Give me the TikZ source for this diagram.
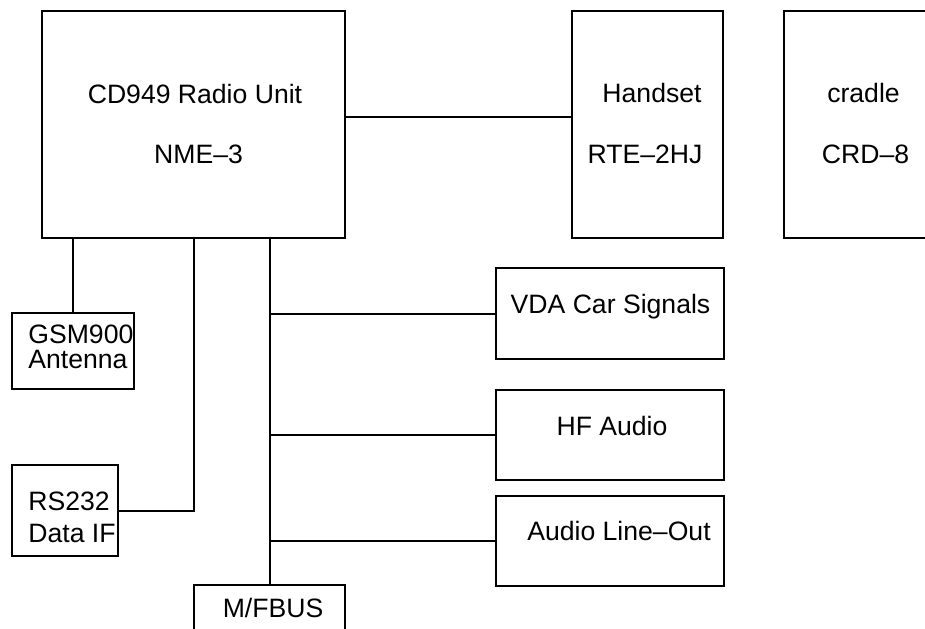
\documentclass[tikz,border=0pt]{standalone}
\usepackage{fontspec}
\setmainfont{Liberation Sans}
\begin{document}
\begin{tikzpicture}[x=0.5pt,y=-0.5pt,
  box/.style={draw,line width=1pt,rectangle,inner sep=0pt},
  lbl/.style={anchor=base,inner sep=0pt,font=\fontsize{13.3}{16}\selectfont},
  wire/.style={line width=1pt}]
\useasboundingbox (0,0) rectangle (925,628);
% boxes
\node[box,minimum width=151.5pt,minimum height=113.5pt] (main) at (193.5,124.5) {};
\node[box,minimum width=75.5pt,minimum height=113.5pt] (handset) at (647.5,124.5) {};
\node[box,minimum width=76pt,minimum height=113.5pt] (cradle) at (860,124.5) {};
\node[box,minimum width=61pt,minimum height=38pt] (gsm) at (73,351) {};
\node[box,minimum width=53pt,minimum height=45.5pt] (rs) at (65,510.5) {};
\node[box,minimum width=114pt,minimum height=45.5pt] (vda) at (610,313.5) {};
\node[box,minimum width=114pt,minimum height=45pt] (hf) at (610,435) {};
\node[box,minimum width=114pt,minimum height=45pt] (aud) at (610,541) {};
\node[box,minimum width=75.5pt,minimum height=30pt] (mf) at (269.5,615) {};
% labels
\node[lbl] (t1) at (195,103) {CD949 Radio Unit};
\node[lbl] (t2) at (198.5,163) {NME–3};
\node[lbl] (t3) at (652,102) {Handset};
\node[lbl] (t4) at (645,163) {RTE–2HJ};
\node[lbl] (t5) at (863.5,102) {cradle};
\node[lbl] (t6) at (865.5,163) {CRD–8};
\node[lbl,anchor=base west] (t7) at (28,343) {GSM900};
\node[lbl,anchor=base west] (t8) at (28,368) {Antenna};
\node[lbl,anchor=base west] (t9) at (28,510) {RS232};
\node[lbl,anchor=base west] (t10) at (28,542) {Data IF};
\node[lbl] (t11) at (610.5,313) {VDA Car Signals};
\node[lbl] (t12) at (612,435) {HF Audio};
\node[lbl] (t13) at (619,540) {Audio Line–Out};
\node[lbl] (t14) at (273,617) {M/FBUS};
% connectors
\draw[wire] (main.east |- 0,117) -- (handset.west |- 0,117);
\draw[wire] (main.south -| gsm.north) -- (gsm.north);
\draw[wire] (rs.east) -| (main.south -| 194,0);
\draw[wire] (main.south -| mf.north) -- (mf.north);
\draw[wire] (vda.west) -- (vda.west -| mf.north);
\draw[wire] (hf.west) -- (hf.west -| mf.north);
\draw[wire] (aud.west) -- (aud.west -| mf.north);
\end{tikzpicture}
\end{document}
